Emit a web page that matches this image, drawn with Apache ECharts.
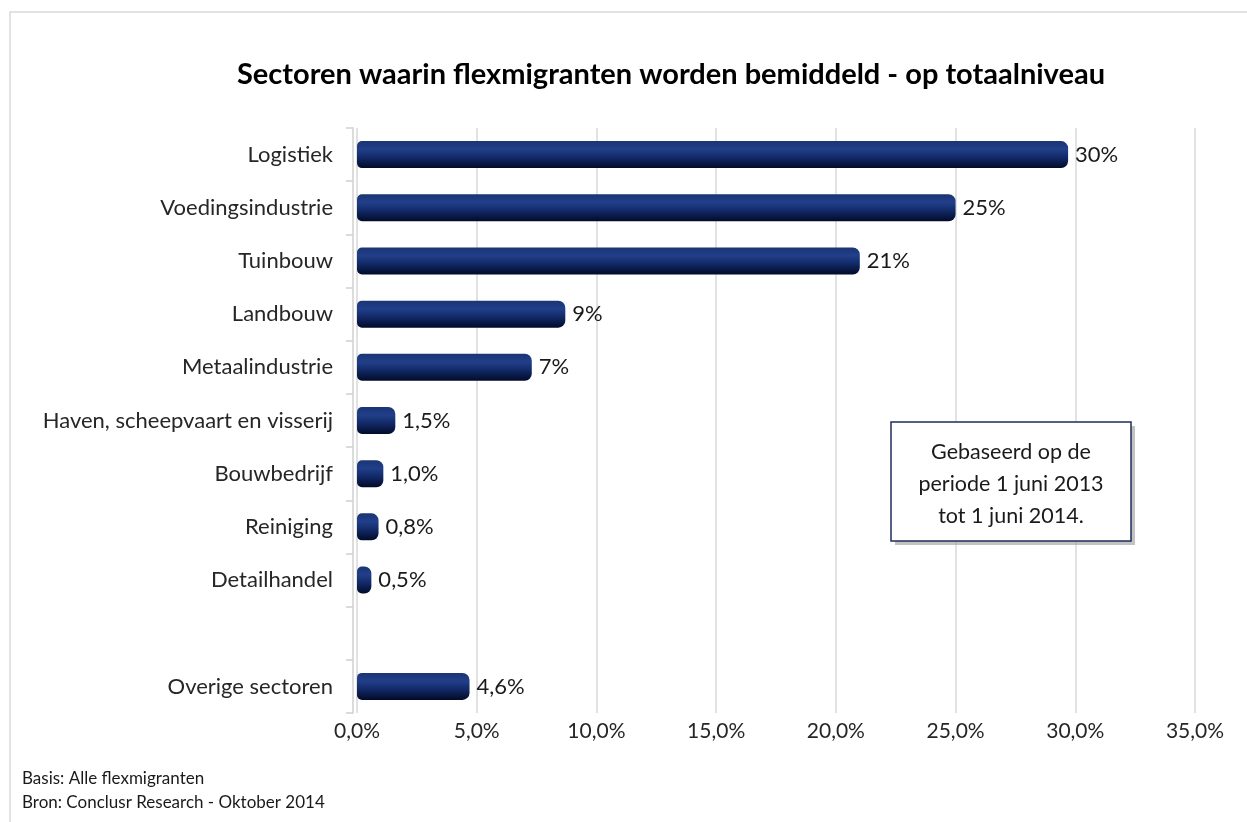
<!DOCTYPE html>
<html><head><meta charset="utf-8">
<script src="https://cdn.jsdelivr.net/npm/echarts@6/dist/echarts.min.js"></script>
<style>html,body{margin:0;padding:0;background:#fff}#c{width:1247px;height:822px}</style>
</head><body><div id="c"></div>
<script>
const categories = ['Logistiek','Voedingsindustrie','Tuinbouw','Landbouw','Metaalindustrie','Haven, scheepvaart en visserij','Bouwbedrijf','Reiniging','Detailhandel','','Overige sectoren'];
const values = [29.7, 25.0, 21.0, 8.7, 7.3, 1.6, 1.1, 0.9, 0.6, null, 4.7];
const valueLabels = ['30%','25%','21%','9%','7%','1,5%','1,0%','0,8%','0,5%','','4,6%'];
const xTicks = [0,5,10,15,20,25,30,35];
const title = 'Sectoren waarin flexmigranten worden bemiddeld - op totaalniveau';
const note = ['Gebaseerd op de','periode 1 juni 2013','tot 1 juni 2014.'];
const footer = ['Basis: Alle flexmigranten','Bron: Conclusr Research - Oktober 2014'];

const FONT = 'Lato';
const chart = echarts.init(document.getElementById('c'));
const barColor = new echarts.graphic.LinearGradient(0,0,0,1,[
  {offset:0,color:'#1a3474'},{offset:0.3,color:'#213f8a'},{offset:0.6,color:'#122a68'},{offset:1,color:'#020a28'}]);
chart.setOption({
  animation:false,
  title:{text:title,left:666,textAlign:'center',top:55,textStyle:{fontFamily:FONT,fontWeight:'bold',fontSize:29,color:'#000'}},
  grid:{left:357,right:52,top:128,bottom:109,containLabel:false},
  xAxis:{type:'value',min:0,max:35,interval:5,
    axisLine:{show:false},axisTick:{show:false},
    splitLine:{lineStyle:{color:'#d9d9d9',width:1.5}},
    axisLabel:{fontFamily:FONT,fontSize:21,color:'#262626',margin:8,formatter:v=>v.toFixed(1).replace('.',',')+'%'}},
  yAxis:{type:'category',inverse:true,data:categories,
    axisLine:{lineStyle:{color:'#d0d0d0',width:1.5},onZero:false},
    axisTick:{show:true,length:7,lineStyle:{color:'#d0d0d0',width:1.5}},
    axisLabel:{fontFamily:FONT,fontSize:22,color:'#262626',margin:20},
    offset:4},
  series:[{type:'bar',data:values,barWidth:27,
    itemStyle:{color:barColor,borderRadius:[5,7,7,5]},
    label:{show:true,position:'right',distance:7,fontFamily:FONT,fontSize:22,color:'#1a1a1a',
      formatter:p=>valueLabels[p.dataIndex]}}],
  graphic:[
    {type:'rect',shape:{x:10,y:12,width:1240,height:820},style:{fill:'none',stroke:'#d9d9d9',lineWidth:1.5},z:-1},
    {type:'rect',shape:{x:895,y:426,width:240,height:119},style:{fill:'#9a9a9a',opacity:0.6},z:9},
    {type:'rect',shape:{x:891,y:422,width:240,height:119},style:{fill:'#fff',stroke:'#1f2d5c',lineWidth:1.5},z:10},
    {type:'text',x:1011,y:436,z:11,style:{text:note.join('\n'),fontFamily:FONT,fontSize:21.5,lineHeight:32,align:'center',fill:'#1a1a1a'}},
    {type:'text',x:22,y:767,style:{text:footer.join('\n'),fontFamily:FONT,fontSize:17,lineHeight:24,fill:'#1a1a1a'}}
  ]
});
</script></body></html>
